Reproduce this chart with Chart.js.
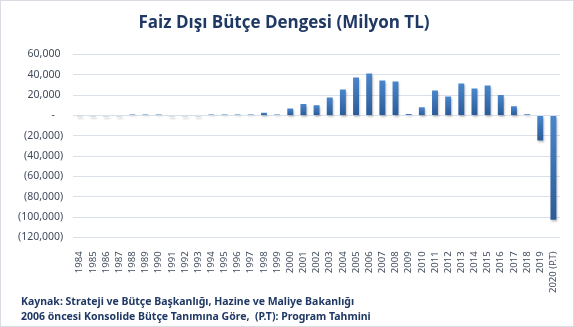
<!DOCTYPE html>
<html>
<head>
<meta charset="utf-8">
<script src="https://cdn.jsdelivr.net/npm/chart.js@4.4.1/dist/chart.umd.min.js"></script>
<style>
  body { margin: 0; background: #fff; }
  #wrap { width: 574px; height: 327px; box-sizing: border-box; border: 1px solid #d9dde3; }
</style>
</head>
<body>
<div id="wrap"><canvas id="chart" width="572" height="325"></canvas></div>
<script>
const years = ['1984', '1985', '1986', '1987', '1988', '1989', '1990', '1991', '1992', '1993',
  '1994', '1995', '1996', '1997', '1998', '1999', '2000', '2001', '2002', '2003', '2004',
  '2005', '2006', '2007', '2008', '2009', '2010', '2011', '2012', '2013', '2014', '2015',
  '2016', '2017', '2018', '2019', '2020 (P.T)'];

// primary balance, million TL
const balance = [-1500, -1500, -1500, -1500, 1000, 1000, 1000, -1500, -1500, -1500,
  1000, 1000, 1000, 1000, 2500, 1000, 6900, 11100, 10100, 17700, 25600,
  37400, 41300, 34400, 33400, 1300, 7900, 24600, 18700, 31500, 26500, 29500,
  20000, 8900, 1200, -24600, -102600];

const yMin = -120000, yMax = 60000, yStep = 20000;

const titleText = 'Faiz Dışı Bütçe Dengesi (Milyon TL)';
const sourceLines = [
  'Kaynak: Strateji ve Bütçe Başkanlığı, Hazine ve Maliye Bakanlığı',
  '2006 öncesi Konsolide Bütçe Tanımına Göre,  (P.T): Program Tahmini'
];

const navy = '#1f3864';
const tickColor = '#404b5c';

function fmt(v) {
  if (v === 0) return '-   ';
  const s = Math.abs(v).toLocaleString('en-US');
  return v < 0 ? '(' + s + ')' : s + ' ';
}

// bars get a light-to-dark vertical gradient; tiny negatives render as pale dashes
function barFill(ctx) {
  const v = ctx.raw;
  if (v < 0 && v > -5000) return '#d8dce2';
  const chart = ctx.chart;
  const y = chart.scales.y;
  if (!y || !chart.chartArea) return '#3a70b5';
  const p0 = y.getPixelForValue(0);
  const p1 = y.getPixelForValue(v);
  if (Math.abs(p1 - p0) < 1) return '#3a70b5';
  const g = chart.ctx.createLinearGradient(0, Math.min(p0, p1), 0, Math.max(p0, p1));
  g.addColorStop(0, '#4a86cc');
  g.addColorStop(1, '#2b5b98');
  return g;
}

const barShadow = {
  id: 'barShadow',
  beforeDatasetsDraw(chart) {
    const c = chart.ctx;
    c.save();
    c.shadowColor = 'rgba(0,0,0,0.22)';
    c.shadowOffsetX = 1;
    c.shadowOffsetY = 2;
    c.shadowBlur = 2;
  },
  afterDatasetsDraw(chart) {
    chart.ctx.restore();
  }
};

// source note under the axis labels
const sourceNote = {
  id: 'sourceNote',
  afterDraw(chart) {
    const c = chart.ctx;
    c.save();
    c.fillStyle = navy;
    c.font = 'bold 10.5px "Noto Sans"';
    c.textAlign = 'left';
    c.textBaseline = 'alphabetic';
    sourceLines.forEach((line, i) => c.fillText(line, 20, 304 + i * 15));
    c.restore();
  }
};

new Chart(document.getElementById('chart').getContext('2d'), {
  type: 'bar',
  data: {
    labels: years,
    datasets: [{
      data: balance,
      backgroundColor: barFill,
      barPercentage: 0.5,
      categoryPercentage: 0.9
    }]
  },
  plugins: [barShadow, sourceNote],
  options: {
    responsive: false,
    animation: false,
    layout: { padding: { left: 7, right: 13, top: 0, bottom: 27 } },
    plugins: {
      legend: { display: false },
      tooltip: { enabled: false },
      title: {
        display: true,
        text: titleText,
        color: navy,
        font: { family: 'Open Sans', size: 17, weight: 'bold' },
        padding: { top: 12, bottom: 21 }
      }
    },
    scales: {
      x: {
        grid: { display: false },
        border: { display: false },
        ticks: {
          color: tickColor,
          font: { family: 'Noto Sans', size: 9.5 },
          minRotation: 90,
          maxRotation: 90,
          autoSkip: false,
          padding: 6
        }
      },
      y: {
        min: yMin,
        max: yMax,
        grid: { color: '#d9e0ea', lineWidth: 1, drawTicks: false },
        border: { display: false },
        ticks: {
          stepSize: yStep,
          color: tickColor,
          font: { family: 'Noto Sans', size: 10.5 },
          padding: 10,
          callback: fmt
        }
      }
    }
  }
});
</script>
</body>
</html>
